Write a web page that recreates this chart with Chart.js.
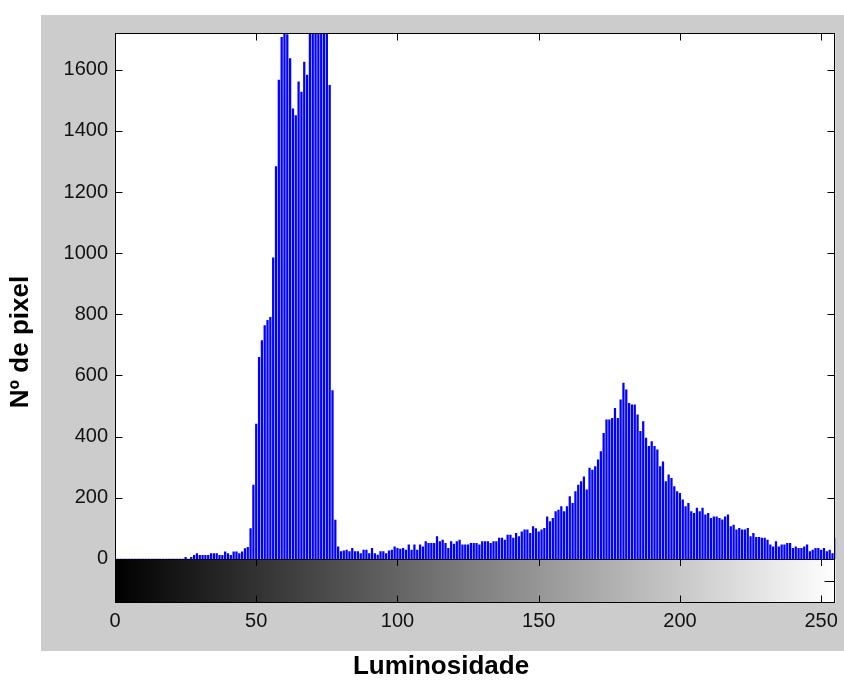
<!DOCTYPE html>
<html>
<head>
<meta charset="utf-8">
<script src="https://cdn.jsdelivr.net/npm/chart.js@4.4.0/dist/chart.umd.min.js"></script>
<style>
  body { margin: 0; background: #fff; }
  #wrap { width: 844px; height: 682px; }
</style>
</head>
<body>
<div id="wrap"><canvas id="histograma"></canvas></div>
<script>
// histograma de luminosidade (imhist), 256 niveis de cinza
const niveis = Array.from({ length: 256 }, (_, i) => i);

// numero de pixels por nivel (niveis 69-75 passam do topo)
const pixels = [
  0, 0, 0, 0, 0, 0, 0, 0, 0, 0, 0, 0, 0, 0, 0, 0,
  0, 0, 0, 0, 0, 0, 0, 0, 0, 5, 0, 5, 12, 18, 12, 12,
  12, 12, 18, 18, 18, 12, 12, 23, 18, 12, 23, 23, 18, 23, 34, 38,
  99, 242, 441, 659, 714, 763, 780, 790, 985, 1283, 1566, 1706, 1717, 1715, 1636, 1472,
  1450, 1560, 1527, 1625, 1582, 1850, 2050, 2200, 2150, 1950, 1900, 1800, 1549, 551, 127, 40,
  24, 27, 29, 24, 35, 24, 24, 18, 29, 29, 18, 35, 18, 13, 24, 24,
  18, 27, 29, 40, 35, 32, 35, 29, 46, 29, 46, 29, 46, 40, 57, 51,
  51, 51, 73, 57, 62, 51, 35, 57, 49, 57, 62, 46, 46, 46, 51, 51,
  51, 46, 57, 57, 57, 51, 57, 57, 68, 68, 62, 78, 78, 68, 84, 73,
  89, 95, 95, 84, 106, 99, 89, 95, 100, 138, 122, 133, 155, 160, 171, 155,
  171, 204, 182, 220, 242, 253, 269, 226, 297, 291, 302, 324, 351, 411, 455, 455,
  460, 493, 460, 520, 575, 553, 509, 504, 504, 471, 417, 449, 395, 368, 384, 368,
  357, 302, 318, 253, 275, 264, 237, 220, 215, 193, 171, 182, 155, 149, 166, 155,
  166, 144, 149, 133, 138, 138, 133, 128, 138, 144, 106, 111, 95, 100, 95, 95,
  100, 73, 84, 71, 71, 68, 68, 62, 46, 40, 57, 40, 46, 46, 51, 51,
  35, 40, 35, 35, 40, 46, 24, 29, 35, 35, 29, 35, 24, 29, 18, 68
];

const ticksX = [0, 50, 100, 150, 200, 250];
const ticksY = [0, 200, 400, 600, 800, 1000, 1200, 1400, 1600];

const tituloX = 'Luminosidade';
const tituloY = 'Nº de pixel';

const fonte = '"Liberation Sans", Arial, sans-serif';

// fundo cinza, barra de cores, caixa e marcas para dentro (estilo matlab)
const moldura = {
  id: 'moldura',
  beforeDraw(chart) {
    const { ctx, chartArea: a } = chart;
    ctx.save();
    ctx.fillStyle = '#fff';
    ctx.fillRect(0, 0, chart.width, chart.height);
    ctx.fillStyle = '#cccccc';
    ctx.fillRect(41, 15, chart.width - 41, 636);
    ctx.fillStyle = '#fff';
    ctx.fillRect(a.left, a.top, a.right - a.left, a.bottom - a.top);
    ctx.restore();
  },
  afterDatasetsDraw(chart) {
    const { ctx, chartArea: a } = chart;
    const xs = chart.scales.x, ys = chart.scales.y;
    const y0 = Math.round(ys.getPixelForValue(0));
    const xa = xs.getPixelForValue(0), xb = xs.getPixelForValue(255);

    ctx.save();
    const grad = ctx.createLinearGradient(xa, 0, xb, 0);
    grad.addColorStop(0, '#000');
    grad.addColorStop(1, '#fff');
    ctx.fillStyle = grad;
    ctx.fillRect(a.left, y0, a.right - a.left, a.bottom - y0);

    ctx.strokeStyle = '#000';
    ctx.lineWidth = 1;
    const L = Math.round(a.left) + 0.5, R = Math.round(a.right) - 0.5;
    const T = Math.round(a.top) + 0.5, B = Math.round(a.bottom) - 0.5;
    ctx.strokeRect(L, T, R - L, B - T);
    ctx.beginPath();
    ctx.moveTo(L, y0 + 0.5); ctx.lineTo(R, y0 + 0.5);

    const tk = 7;
    ticksX.forEach(v => {
      const px = Math.round(xs.getPixelForValue(v)) + 0.5;
      ctx.moveTo(px, T); ctx.lineTo(px, T + tk);
      ctx.moveTo(px, y0); ctx.lineTo(px, y0 + tk);
      ctx.moveTo(px, B); ctx.lineTo(px, B - tk);
    });
    ticksY.forEach(v => {
      const py = Math.round(ys.getPixelForValue(v)) + 0.5;
      ctx.moveTo(L, py); ctx.lineTo(L + tk, py);
      ctx.moveTo(R, py); ctx.lineTo(R - tk, py);
    });
    const ym = Math.round((y0 + a.bottom) / 2) + 0.5;
    ctx.moveTo(R, ym); ctx.lineTo(R - 10, ym);
    ctx.stroke();

    ctx.fillStyle = '#000';
    ctx.font = 'bold 26px ' + fonte;
    ctx.textAlign = 'center';
    ctx.textBaseline = 'middle';
    ctx.fillText(tituloX, 441, 667);
    ctx.translate(21, 342);
    ctx.rotate(-Math.PI / 2);
    ctx.fillText(tituloY, 0, 0);
    ctx.restore();
  }
};

const ctx = document.getElementById('histograma').getContext('2d');
const histograma = new Chart(ctx, {
  type: 'bar',
  data: {
    datasets: [{
      data: pixels.map((v, i) => ({ x: niveis[i], y: v })),
      backgroundColor: '#0000ff',
      borderWidth: 0,
      barThickness: 1.6
    }]
  },
  options: {
    responsive: true,
    maintainAspectRatio: false,
    animation: false,
    layout: {
      autoPadding: false,
      padding: { left: 0, top: 33, right: 7, bottom: 0 }
    },
    plugins: {
      legend: { display: false },
      tooltip: { enabled: false }
    },
    scales: {
      x: {
        type: 'linear',
        min: 0,
        max: 255,
        offset: false,
        grid: { display: false, drawTicks: false },
        border: { display: false },
        ticks: { padding: 6, color: '#111', font: { family: fonte, size: 20 }, callback: v => String(v) },
        afterBuildTicks: s => { s.ticks = ticksX.map(v => ({ value: v })); },
        afterFit: s => { s.height = 79; }
      },
      y: {
        min: -144,
        max: 1720,
        grid: { display: false, drawTicks: false },
        border: { display: false },
        ticks: { padding: 7, color: '#111', font: { family: fonte, size: 20 }, callback: v => String(v) },
        afterBuildTicks: s => { s.ticks = ticksY.map(v => ({ value: v })); },
        afterFit: s => { s.width = 115; }
      }
    }
  },
  plugins: [moldura]
});
</script>
</body>
</html>
